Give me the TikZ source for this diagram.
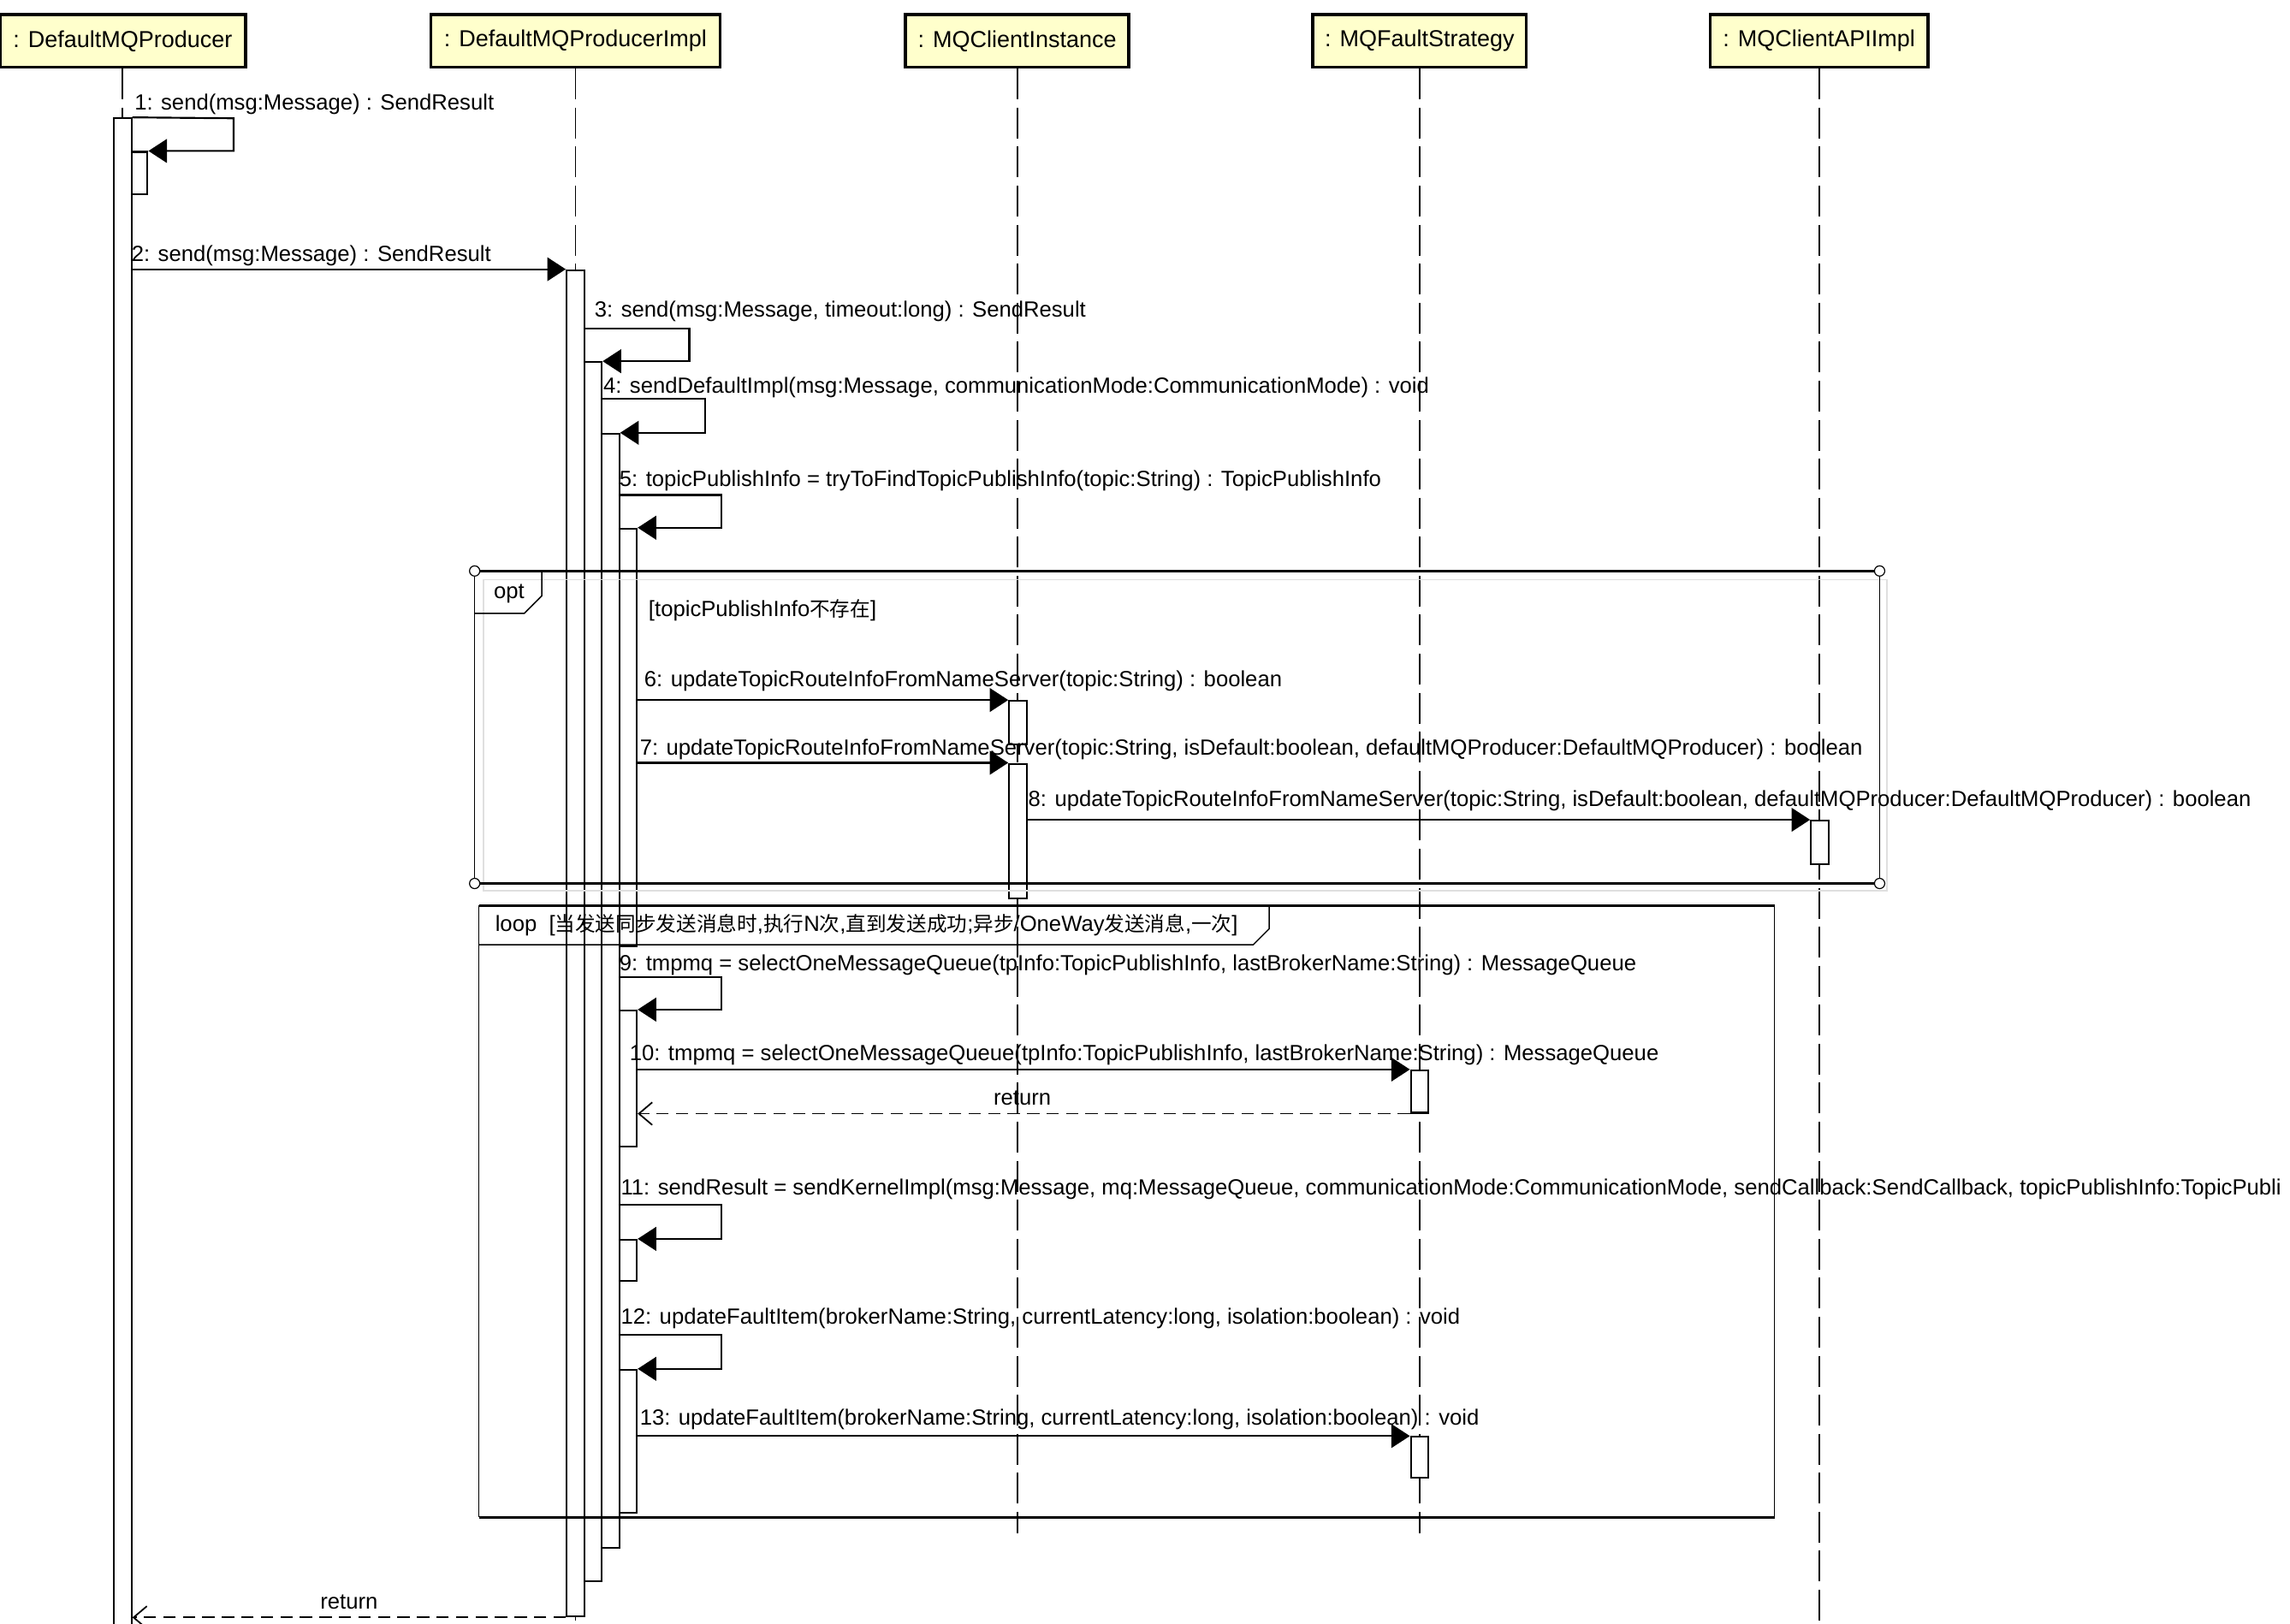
\documentclass[tikz,border=0pt]{standalone}
\usepackage{fontspec}
\setmainfont{Liberation Sans}
\newfontfamily\cjk[Scale=0.92]{Noto Sans CJK SC}
\usetikzlibrary{arrows.meta,fit}
\definecolor{headyellow}{RGB}{255,255,204}

\begin{document}
\begin{tikzpicture}[x=0.05cm, y=-0.05cm,
	head/.style={draw, line width=3pt, fill=headyellow, minimum height=1.8cm, inner sep=0pt, font=\fontsize{22.5}{26}\selectfont},
	life/.style={line width=1.5pt, dash pattern=on 30pt off 8pt},
	bar/.style={draw, line width=1.8pt, fill=white, inner sep=0pt},
	msg/.style={line width=1.8pt, -{Triangle[length=18pt, width=23pt]}},
	ret/.style={line width=1.5pt, dash pattern=on 12pt off 7pt, -{Straight Barb[length=13pt, width=22pt]}},
	lbl/.style={anchor=base west, inner sep=0pt, font=\fontsize{21.4}{25}\selectfont},
	]
	\useasboundingbox (0,0) rectangle (1568,1112);
	\begin{scope}
	\coordinate (bottom) at (0,1112);
	\coordinate (lifeend) at (0,1050);

	\node[head, minimum width=8.4cm] (prod) at (84,28) {: DefaultMQProducer};
	\node[head, minimum width=9.9cm] (impl) at (394,28) {: DefaultMQProducerImpl};
	\node[head, minimum width=7.65cm] (inst) at (696.5,28) {: MQClientInstance};
	\node[head, minimum width=7.3cm] (fault) at (972,28) {: MQFaultStrategy};
	\node[head, minimum width=7.45cm] (api) at (1245.5,28) {: MQClientAPIImpl};

	\draw[life] (prod.south) -- (prod.south |- bottom);
	\draw[life] (impl.south) -- (impl.south |- bottom);
	\draw[life] (inst.south) -- (inst.south |- lifeend);
	\draw[life] (fault.south) -- (fault.south |- lifeend);
	\draw[life] (api.south) -- (api.south |- bottom);

	\node[bar, fit={(78,81) (90,1118)}] (p1a) {};
	\node[bar, fit={(90,104) (101,133)}] (p1b) {};
	\node[bar, fit={(388,185) (400,1107)}] (i2a) {};
	\node[bar, fit={(400,248) (412,1083)}] (i2b) {};
	\node[bar, fit={(412,297) (424,1060)}] (i2c) {};
	\node[bar, fit={(424,362) (436,648)}] (i2d) {};
	\node[bar, fit={(691,480) (703,510)}] (c3a) {};
	\node[bar, fit={(691,523) (703,615)}] (c3b) {};
	\node[bar, fit={(1240,562) (1252,592)}] (a5a) {};
	\node[bar, fit={(424,692) (436,785)}] (i2e) {};
	\node[bar, fit={(966,733) (978,762)}] (f4a) {};
	\node[bar, fit={(424,849) (436,877)}] (i2f) {};
	\node[bar, fit={(424,938) (436,1036)}] (i2g) {};
	\node[bar, fit={(966,984) (978,1012)}] (f4b) {};

	\coordinate (m1) at (160,81);
	\coordinate (m3) at (472,225);
	\coordinate (m4) at (483,273);
	\coordinate (m5) at (494,339);
	\coordinate (m9) at (494,669);
	\coordinate (m11) at (494,825);
	\coordinate (m12) at (494,914);

	\draw[msg] (p1a.north east) -- (m1) |- (p1b.north east);
	\draw[msg] (p1a.east |- i2a.north) -- (i2a.north west);
	\draw[msg] (i2a.east |- m3) -- (m3) |- (i2b.north east);
	\draw[msg] (i2b.east |- m4) -- (m4) |- (i2c.north east);
	\draw[msg] (i2c.east |- m5) -- (m5) |- (i2d.north east);
	\draw[msg] (i2d.east |- c3a.north) -- (c3a.north west);
	\draw[msg] (i2d.east |- c3b.north) -- (c3b.north west);
	\draw[msg] (c3b.east |- a5a.north) -- (a5a.north west);
	\draw[msg] (i2c.east |- m9) -- (m9) |- (i2e.north east);
	\draw[msg] (i2e.east |- f4a.north) -- (f4a.north west);
	\draw[ret] (f4a.south west) -- (i2e.east |- f4a.south);
	\draw[msg] (i2c.east |- m11) -- (m11) |- (i2f.north east);
	\draw[msg] (i2c.east |- m12) -- (m12) |- (i2g.north east);
	\draw[msg] (i2g.east |- f4b.north) -- (f4b.north west);
	\draw[ret] (i2a.south west) -- (p1a.east |- i2a.south);

	% opt
	\draw[gray!25, line width=1.5pt] (331,397) rectangle (1292,610);
	\draw[line width=1pt] (325,391) -- (325,605) (1287,391) -- (1287,605);
	\draw[line width=2pt] (325,391) -- (1287,391) (325,605) -- (1287,605);
	\draw[line width=1.2pt] (371,391) -- (371,408) -- (359,420) -- (325,420);
	\foreach \p in {(325,391),(1287,391),(325,605),(1287,605)}
		\draw[line width=1pt, fill=white] \p circle[radius=5pt];
	\node[lbl] (optlbl) at (338,410) {opt};
	\node[lbl] (optguard) at (444,422) {[topicPublishInfo{\cjk 不存在}]};

	% loop
	\draw[line width=1pt] (328,620) -- (328,1039) (1215,620) -- (1215,1039);
	\draw[line width=2.4pt] (328,620) -- (1215,620) (328,1039) -- (1215,1039);
	\draw[line width=1.2pt] (869,620) -- (869,636) -- (858,647) -- (328,647);
	\node[lbl] (looplbl) at (339,638) {loop\ \ [{\cjk 当发送同步发送消息时},{\cjk 执行}N{\cjk 次},{\cjk 直到发送成功};{\cjk 异步}/OneWay{\cjk 发送消息},{\cjk 一次}]};

	\node[lbl] (t1) at (92,75) {1: send(msg:Message) : SendResult};
	\node[lbl] (t2) at (90,179) {2: send(msg:Message) : SendResult};
	\node[lbl] (t3) at (407,217) {3: send(msg:Message, timeout:long) : SendResult};
	\node[lbl] (t4) at (413,269) {4: sendDefaultImpl(msg:Message, communicationMode:CommunicationMode) : void};
	\node[lbl] (t5) at (424,333) {5: topicPublishInfo = tryToFindTopicPublishInfo(topic:String) : TopicPublishInfo};
	\node[lbl] (t6) at (441,470) {6: updateTopicRouteInfoFromNameServer(topic:String) : boolean};
	\node[lbl] (t7) at (438,517) {7: updateTopicRouteInfoFromNameServer(topic:String, isDefault:boolean, defaultMQProducer:DefaultMQProducer) : boolean};
	\node[lbl] (t8) at (704,552) {8: updateTopicRouteInfoFromNameServer(topic:String, isDefault:boolean, defaultMQProducer:DefaultMQProducer) : boolean};
	\node[lbl] (t9) at (424,665) {9: tmpmq = selectOneMessageQueue(tpInfo:TopicPublishInfo, lastBrokerName:String) : MessageQueue};
	\node[lbl] (t10) at (431,726) {10: tmpmq = selectOneMessageQueue(tpInfo:TopicPublishInfo, lastBrokerName:String) : MessageQueue};
	\node[lbl, anchor=base] (tr1) at (700,757) {return};
	\begin{scope}
		\clip (0,0) rectangle (1568,1112);
		\node[lbl] (t11) at (425,818) {11: sendResult = sendKernelImpl(msg:Message, mq:MessageQueue, communicationMode:CommunicationMode, sendCallback:SendCallback, topicPublishInfo:TopicPubli};
	\end{scope}
	\node[lbl] (t12) at (425,907) {12: updateFaultItem(brokerName:String, currentLatency:long, isolation:boolean) : void};
	\node[lbl] (t13) at (438,976) {13: updateFaultItem(brokerName:String, currentLatency:long, isolation:boolean) : void};
	\node[lbl, anchor=base] (tr2) at (239,1102) {return};
	\end{scope}
\end{tikzpicture}
\end{document}
